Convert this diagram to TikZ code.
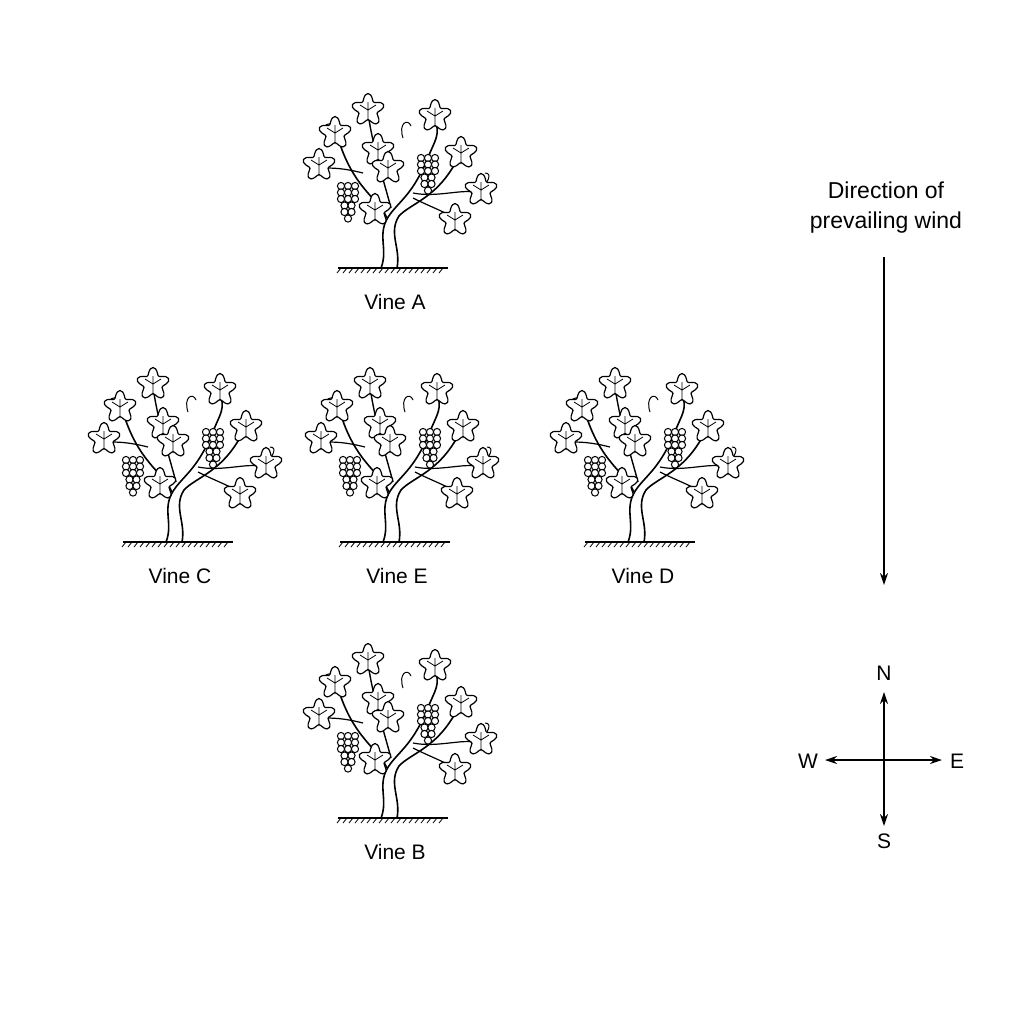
\documentclass[tikz,border=0pt]{standalone}
\usepackage{fontspec}
\setmainfont{Liberation Sans}
\usetikzlibrary{arrows.meta,patterns}
\begin{document}
\begin{tikzpicture}[x=0.5pt,y=-0.5pt,
  lbl/.style={font=\fontsize{10.5}{13}\selectfont,align=center,inner sep=0},
  arr/.style={-{Stealth[length=6pt,width=4pt]},line width=0.7pt},
  leaf/.pic={
    \draw[line width=0.6pt,fill=white] plot[smooth cycle,domain=0:350,samples=36]
      ({(13+3.5*cos(5*\x+90))*cos(\x)},{(13+3.5*cos(5*\x+90))*sin(\x)});
    \draw[line width=0.4pt] (0,11) -- (0,-8) (0,0) -- (-8,-5) (0,0) -- (8,-5);
  },
  grapes/.pic={
    \foreach \r/\n in {0/3,1/3,2/3,3/2,4/2,5/1}{
      \foreach \i in {1,...,\n}{
        \draw[line width=0.5pt,fill=white] ({(\i-(\n+1)/2)*7},{\r*6.5}) circle (3.6);
      }
    }
  },
  vine/.pic={
    \draw[line width=0.8pt] (-55,0) -- (55,0);
    \foreach \k in {-52,-46,...,52} \draw[line width=0.4pt] (\k,0) -- (\k-4,5);
    \draw[line width=0.8pt] (-12,0) .. controls (-4,-20) and (-18,-35) .. (-2,-55)
      .. controls (8,-68) and (20,-75) .. (35,-110) .. controls (40,-125) and (50,-135) .. (40,-150);
    \draw[line width=0.8pt] (4,0) .. controls (8,-20) and (-5,-35) .. (6,-52)
      .. controls (18,-65) and (45,-70) .. (65,-110);
    \draw[line width=0.8pt] (-6,-50) .. controls (-15,-70) and (-40,-80) .. (-55,-130);
    \draw[line width=0.7pt] (-2,-60) .. controls (-10,-90) and (-20,-120) .. (-25,-155);
    \draw[line width=0.6pt] (-30,-95) .. controls (-50,-100) and (-60,-100) .. (-70,-100);
    \draw[line width=0.6pt] (20,-75) .. controls (45,-70) and (70,-80) .. (85,-75);
    \draw[line width=0.6pt] (20,-70) .. controls (40,-60) and (55,-55) .. (60,-50);
    \draw[line width=0.5pt] (-50,-140) .. controls (-65,-150) and (-75,-140) .. (-65,-135);
    \draw[line width=0.5pt] (85,-75) .. controls (95,-85) and (100,-95) .. (92,-95);
    \draw[line width=0.5pt] (10,-130) .. controls (5,-145) and (15,-150) .. (18,-142);
    \pic at (-45,-82) {grapes};
    \pic at (35,-110) {grapes};
    \foreach \p in {(-25,-158),(42,-152),(-58,-135),(-15,-118),(68,-115),(-74,-103),(88,-78),(62,-48),(-5,-100),(-18,-58)}
      \pic at \p {leaf};
  }]
\useasboundingbox (0,0) rectangle (1024,1024);
\pic at (393,268) {vine};
\pic at (178,542) {vine};
\pic at (395,542) {vine};
\pic at (640,542) {vine};
\pic at (393,818) {vine};
\node[lbl] (la) at (395,302) {Vine A};
\node[lbl] (lc) at (180,576) {Vine C};
\node[lbl] (le) at (397,576) {Vine E};
\node[lbl] (ld) at (643,576) {Vine D};
\node[lbl] (lb) at (395,852) {Vine B};
\node[lbl,font=\fontsize{11.5}{15}\selectfont] (wind) at (886,208) {Direction of\\prevailing wind};
\coordinate (w1) at (884,257);
\coordinate (w2) at (884,585);
\draw[arr] (w1) -- (w2);
\coordinate (c) at (884,760);
\coordinate (cn) at (884,692);
\coordinate (cs) at (884,826);
\coordinate (cw) at (825,760);
\coordinate (ce) at (942,760);
\draw[arr] (c) -- (cn);
\draw[arr] (c) -- (cs);
\draw[arr] (c) -- (cw);
\draw[arr] (c) -- (ce);
\node[lbl] (n) at (884,673) {N};
\node[lbl] (s) at (884,841) {S};
\node[lbl] (w) at (808,761) {W};
\node[lbl] (e) at (957,761) {E};
\end{tikzpicture}
\end{document}
